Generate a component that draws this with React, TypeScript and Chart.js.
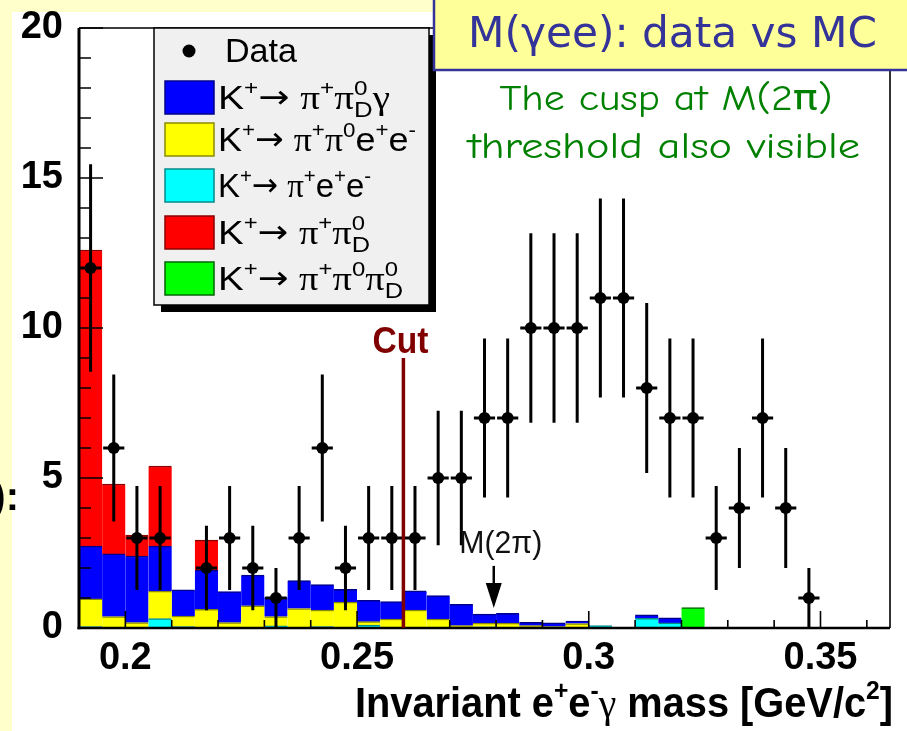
import React, { useEffect, useRef } from 'react';
import { Chart, registerables } from 'chart.js';
Chart.register(...registerables);

// ---------- data ----------
const binWidth = 0.005;
const binCenters = [0.1925, 0.1975, 0.2025, 0.2075, 0.2125, 0.2175, 0.2225, 0.2275, 0.2325, 0.2375, 0.2425, 0.2475, 0.2525, 0.2575, 0.2625, 0.2675, 0.2725, 0.2775, 0.2825, 0.2875, 0.2925, 0.2975, 0.3025, 0.3075, 0.3125, 0.3175, 0.3225, 0.3275, 0.3325, 0.3375, 0.3425, 0.3475, 0.3525, 0.3575, 0.3625];
const dataCounts = [12, 6, 3, 3, null, 2, 3, 2, 1, 3, 6, 2, 3, 3, 3, 5, 5, 7, 7, 10, 10, 10, 11, 11, 8, 7, 7, 3, 4, 7, 4, 1, null, null, null];
const dataErrors = [3.46, 2.45, 1.73, 1.73, null, 1.41, 1.73, 1.41, 1, 1.73, 2.45, 1.41, 1.73, 1.73, 1.73, 2.24, 2.24, 2.65, 2.65, 3.16, 3.16, 3.16, 3.32, 3.32, 2.83, 2.65, 2.65, 1.73, 2, 2.65, 2, 1, null, null, null];
// MC components (stack order bottom -> top: cyan, yellow, blue, red, green)
const mcPiEE = [0.05, 0.02, 0.02, 0.31, 0.05, 0, 0, 0, 0.07, 0, 0.05, 0, 0.1, 0, 0, 0, 0, 0.04, 0, 0, 0, 0, 0.08, 0, 0.32, 0.17, 0, 0, 0, 0, 0, 0, 0, 0, 0];
const mcPiPi0EE = [0.92, 0.36, 0.16, 0.92, 0.35, 0.62, 0.18, 0.74, 0.31, 0.65, 0.55, 0.86, 0.11, 0.3, 0.6, 0.3, 0.08, 0.12, 0.16, 0.08, 0.05, 0.15, 0, 0, 0, 0, 0, 0, 0, 0, 0, 0, 0, 0, 0];
const mcPiPiDGamma = [1.76, 2.09, 2.22, 1.5, 0.87, 1.31, 1.03, 1.02, 0.64, 0.93, 0.85, 0.43, 0.71, 0.58, 0.64, 0.78, 0.71, 0.3, 0.33, 0.11, 0.12, 0.08, 0, 0, 0.12, 0.17, 0, 0, 0, 0, 0, 0, 0, 0, 0];
const mcPiPiD = [9.87, 2.33, 0.7, 2.67, 0, 1.0, 0, 0, 0, 0, 0, 0, 0, 0, 0, 0, 0, 0, 0, 0, 0, 0, 0, 0, 0, 0, 0, 0, 0, 0, 0, 0, 0, 0, 0];
const mcPiPi0Pi0D = [0, 0, 0, 0, 0, 0, 0, 0, 0, 0, 0, 0, 0, 0, 0, 0, 0, 0, 0, 0, 0, 0, 0, 0, 0, 0, 0.68, 0, 0, 0, 0, 0, 0, 0, 0];

const xMin = 0.19;
const xMax = 0.365;
const xTickValues = [0.2, 0.25, 0.3, 0.35];
const xTickLabels = ['0.2', '0.25', '0.3', '0.35'];
const yTickValues = [0, 5, 10, 15, 20];
const yMax = 20;
const cutMass = 0.26;
const cutHeight = 9;
const m2piMass = 0.2795;
const arrowTipValue = 0.67;
const arrowTailValue = 2.07;

const titleText = 'M(\u03B3ee): data vs MC';
const noteLines = ['The cusp at M(2\u03C0)', 'threshold also visible'];

// ---------- drawing helpers ----------
const SANS = '"Liberation Sans", Arial, "DejaVu Sans", sans-serif';
const SERIF = '"Liberation Serif", "Times New Roman", "DejaVu Serif", serif';
const DJV = '"DejaVu Sans", Verdana, sans-serif';
const COMIC = '"Comic Sans MS", "Comic Neue", "DejaVu Sans", sans-serif';

type Seg = { t: string; r?: number; dy?: number; serif?: boolean; noAdv?: boolean; bold?: boolean; fam?: string };

function runRich(ctx: CanvasRenderingContext2D, segs: Seg[], size: number, fam: string, bold: boolean, draw: boolean) {
  let cx = 0;
  let pending = 0;
  for (const s of segs) {
    const sz = size * (s.r ?? 1);
    const b = s.bold ?? bold;
    ctx.font = `${b ? 'bold ' : ''}${sz}px ${s.fam ? s.fam : s.serif ? SERIF : fam}`;
    const w = ctx.measureText(s.t).width;
    if (draw) ctx.fillText(s.t, cx, (s.dy ?? 0) * size);
    if (s.noAdv) pending = Math.max(pending, w);
    else {
      cx += Math.max(w, pending);
      pending = 0;
    }
  }
  return cx + pending;
}

function drawRich(
  ctx: CanvasRenderingContext2D,
  segs: Seg[],
  o: { x: number; y: number; size: number; fam: string; bold?: boolean; color: string; width?: number; align?: 'left' | 'center' | 'right' }
) {
  ctx.save();
  ctx.textAlign = 'left';
  ctx.textBaseline = 'alphabetic';
  ctx.fillStyle = o.color;
  const natural = runRich(ctx, segs, o.size, o.fam, !!o.bold, false);
  const target = o.width ?? natural;
  const sx = target / natural;
  let left = o.x;
  if (o.align === 'center') left = o.x - target / 2;
  else if (o.align === 'right') left = o.x - target;
  ctx.translate(left, o.y);
  ctx.scale(sx, 1);
  runRich(ctx, segs, o.size, o.fam, !!o.bold, true);
  ctx.restore();
}

const SUP = (t: string): Seg => ({ t, r: 0.62, dy: -0.42 });
const KTO: Seg[] = [{ t: 'K' }, SUP('+'), { t: '\u2192', fam: DJV, r: 0.95, dy: -0.02 }, { t: ' ' }];
const PIP: Seg[] = [{ t: '\u03C0', serif: true }, SUP('+')];
const PI0: Seg[] = [{ t: '\u03C0', serif: true }, SUP('0')];
const PI0D: Seg[] = [{ t: '\u03C0', serif: true }, { t: '0', r: 0.62, dy: -0.42, noAdv: true }, { t: 'D', r: 0.66, dy: 0.24 }];
const EP: Seg[] = [{ t: 'e' }, SUP('+')];
const EM: Seg[] = [{ t: 'e' }, SUP('-')];
const GAM: Seg = { t: '\u03B3', serif: true };

const legendRows = [
  { fill: '#0000ff', line: '#00008b', segs: [...KTO, ...PIP, ...PI0D, GAM], w: 172 },
  { fill: '#ffff00', line: '#8b8b00', segs: [...KTO, ...PIP, ...PI0, ...EP, ...EM], w: 198 },
  { fill: '#00ffff', line: '#008b8b', segs: [...KTO, ...PIP, ...EP, ...EM], w: 153 },
  { fill: '#ff0000', line: '#8b0000', segs: [...KTO, ...PIP, ...PI0D], w: 152 },
  { fill: '#00ff00', line: '#006400', segs: [...KTO, ...PIP, ...PI0, ...PI0D], w: 185 },
];

const xTitleSegs: Seg[] = [
  { t: 'Invariant e' }, SUP('+'), { t: 'e' }, SUP('-'), { t: '\u03B3', serif: true, bold: false }, { t: ' mass [GeV/c' }, SUP('2'), { t: ']' },
];

const decorPlugin = {
  id: 'decor',
  beforeDraw(chart: any) {
    const ctx: CanvasRenderingContext2D = chart.ctx;
    ctx.save();
    ctx.fillStyle = '#ffffcc';
    ctx.fillRect(0, 0, chart.width, chart.height);
    ctx.fillStyle = '#ffffff';
    ctx.fillRect(12, 12, chart.width - 12, chart.height - 12);
    ctx.restore();
  },
  afterDatasetsDraw(chart: any) {
    const ctx: CanvasRenderingContext2D = chart.ctx;
    const { left, right, top, bottom } = chart.chartArea;
    const x = chart.scales.x;
    const y = chart.scales.y;
    ctx.save();
    // error bars
    ctx.strokeStyle = '#000';
    ctx.lineWidth = 3;
    dataCounts.forEach((n, i) => {
      if (n == null) return;
      const e = dataErrors[i] as number;
      const px = x.getPixelForValue(binCenters[i]);
      const x0 = x.getPixelForValue(binCenters[i] - binWidth / 2);
      const x1 = x.getPixelForValue(binCenters[i] + binWidth / 2);
      const py = y.getPixelForValue(n);
      ctx.beginPath();
      ctx.moveTo(px, y.getPixelForValue(Math.max(0, n - e)));
      ctx.lineTo(px, y.getPixelForValue(n + e));
      ctx.moveTo(x0 + 1, py);
      ctx.lineTo(x1 - 1, py);
      ctx.stroke();
    });
    // ticks
    ctx.lineWidth = 1.6;
    ctx.beginPath();
    for (let v = 0; v <= yMax; v++) {
      const py = y.getPixelForValue(v);
      const len = v % 5 === 0 ? 24 : 12;
      ctx.moveTo(left, py);
      ctx.lineTo(left + len, py);
    }
    for (let i = 19; i <= 37; i++) {
      const px = x.getPixelForValue(i / 100);
      if (px < left + 2 || px > right - 2) continue;
      const len = i % 5 === 0 ? 17 : 8;
      ctx.moveTo(px, bottom);
      ctx.lineTo(px, bottom - len);
    }
    ctx.stroke();
    // frame
    ctx.lineWidth = 1.6;
    ctx.beginPath();
    ctx.moveTo(left, top);
    ctx.lineTo(right, top);
    ctx.lineTo(right, bottom);
    ctx.stroke();
    ctx.lineWidth = 3;
    ctx.beginPath();
    ctx.moveTo(left, top);
    ctx.lineTo(left, bottom + 1.2);
    ctx.stroke();
    ctx.lineWidth = 2.5;
    ctx.beginPath();
    ctx.moveTo(left - 1.5, bottom);
    ctx.lineTo(right, bottom);
    ctx.stroke();
    // cut line
    const cx = x.getPixelForValue(cutMass);
    const cTop = y.getPixelForValue(cutHeight);
    ctx.strokeStyle = '#800000';
    ctx.lineWidth = 3.5;
    ctx.beginPath();
    ctx.moveTo(cx, bottom);
    ctx.lineTo(cx, cTop);
    ctx.stroke();
    drawRich(ctx, [{ t: 'Cut' }], { x: cx - 3, y: cTop - 5, size: 36, fam: SANS, bold: true, color: '#800000', width: 56, align: 'center' });
    // M(2pi) arrow
    const ax = x.getPixelForValue(m2piMass);
    const tipY = y.getPixelForValue(arrowTipValue);
    const tailY = y.getPixelForValue(arrowTailValue);
    ctx.strokeStyle = '#000';
    ctx.fillStyle = '#000';
    ctx.lineWidth = 2.5;
    ctx.beginPath();
    ctx.moveTo(ax, tailY);
    ctx.lineTo(ax, tipY - 20);
    ctx.stroke();
    ctx.beginPath();
    ctx.moveTo(ax - 8, tipY - 25);
    ctx.lineTo(ax + 8, tipY - 25);
    ctx.lineTo(ax, tipY);
    ctx.closePath();
    ctx.fill();
    drawRich(ctx, [{ t: 'M(2' }, { t: '\u03C0' }, { t: ')' }], { x: ax + 7, y: tailY - 13, size: 31, fam: SANS, color: '#111', width: 83, align: 'center' });
    ctx.restore();
  },
  afterDraw(chart: any) {
    const ctx: CanvasRenderingContext2D = chart.ctx;
    ctx.save();
    // legend
    const lx = 154, ly = 28, lw = 275, lh = 277;
    ctx.fillStyle = '#000';
    ctx.fillRect(lx + 7, ly + 7, lw, lh);
    ctx.fillStyle = '#f0f0f0';
    ctx.fillRect(lx, ly, lw, lh);
    ctx.strokeStyle = '#000';
    ctx.lineWidth = 1.5;
    ctx.strokeRect(lx, ly, lw, lh);
    ctx.fillStyle = '#000';
    ctx.beginPath();
    ctx.arc(189, 51, 6.5, 0, Math.PI * 2);
    ctx.fill();
    drawRich(ctx, [{ t: 'Data' }], { x: 225, y: 62, size: 34, fam: SANS, color: '#000', width: 72 });
    const centers = [97, 139, 185, 232, 278];
    legendRows.forEach((r, i) => {
      const cy = centers[i];
      ctx.fillStyle = r.fill;
      ctx.fillRect(165, cy - 16, 49, 33);
      ctx.strokeStyle = r.line;
      ctx.lineWidth = 1.5;
      ctx.strokeRect(165, cy - 16, 49, 33);
      drawRich(ctx, r.segs, { x: 218, y: cy + 12, size: 34, fam: SANS, color: '#000', width: r.w });
    });
    // title box
    ctx.fillStyle = '#ffff99';
    ctx.fillRect(434, -4, 480, 74);
    ctx.strokeStyle = '#333399';
    ctx.lineWidth = 2.5;
    ctx.strokeRect(434, -4, 480, 74);
    drawRich(ctx, [{ t: titleText }], { x: 468, y: 47, size: 42, fam: DJV, color: '#333399', width: 409 });
    // green note
    drawRich(ctx, [{ t: noteLines[0] }], { x: 666, y: 110, size: 36, fam: COMIC, color: '#008000', width: 333, align: 'center' });
    drawRich(ctx, [{ t: noteLines[1] }], { x: 664, y: 158, size: 36, fam: COMIC, color: '#008000', width: 392, align: 'center' });
    // x-axis title
    drawRich(ctx, xTitleSegs, { x: 893, y: 717, size: 42, fam: SANS, bold: true, color: '#000', width: 538, align: 'right' });
    // slide fragment at left edge
    ctx.fillStyle = '#000';
    ctx.font = `bold 40px ${SANS}`;
    ctx.textAlign = 'right';
    ctx.textBaseline = 'alphabetic';
    ctx.fillText('):', 19, 510);
    ctx.restore();
  },
};

const nz = (arr: number[]) => arr.map((v) => (v ? v : null));

export default function App() {
  const ref = useRef<HTMLCanvasElement>(null);
  useEffect(() => {
    const canvas = ref.current as HTMLCanvasElement;
    const barCommon = {
      type: 'bar' as const,
      xAxisID: 'xb',
      yAxisID: 'y',
      stack: 'mc',
      grouped: false,
      barPercentage: 1,
      categoryPercentage: 1,
      borderWidth: { top: 1.5, left: 0, right: 0, bottom: 0 },
      borderSkipped: 'start' as const,
    };
    const chart = new Chart(canvas, {
      type: 'bar',
      data: {
        labels: binCenters.map(String),
        datasets: [
          { ...barCommon, label: 'K+ -> pi+ e+ e-', data: nz(mcPiEE), backgroundColor: '#00ffff', borderColor: '#008b8b' },
          { ...barCommon, label: 'K+ -> pi+ pi0 e+ e-', data: nz(mcPiPi0EE), backgroundColor: '#ffff00', borderColor: '#8b8b00' },
          { ...barCommon, label: 'K+ -> pi+ pi0D gamma', data: nz(mcPiPiDGamma), backgroundColor: '#0000ff', borderColor: '#00008b' },
          { ...barCommon, label: 'K+ -> pi+ pi0D', data: nz(mcPiPiD), backgroundColor: '#ff0000', borderColor: '#8b0000' },
          { ...barCommon, label: 'K+ -> pi+ pi0 pi0D', data: nz(mcPiPi0Pi0D), backgroundColor: '#00ff00', borderColor: '#006400' },
          {
            type: 'scatter' as const,
            label: 'Data',
            xAxisID: 'x',
            yAxisID: 'y',
            stack: 'data',
            order: -1,
            data: binCenters
              .map((c, i) => (dataCounts[i] == null ? null : { x: c, y: dataCounts[i] as number }))
              .filter((p) => p !== null) as any,
            pointRadius: 6,
            pointBackgroundColor: '#000',
            pointBorderWidth: 0,
            showLine: false,
          } as any,
        ],
      },
      options: {
        responsive: false,
        animation: false,
        devicePixelRatio: 1,
        layout: { padding: { top: 28, right: 17, left: 0, bottom: 0 } },
        plugins: { legend: { display: false }, tooltip: { enabled: false }, title: { display: false } },
        scales: {
          xb: {
            type: 'category',
            display: false,
            stacked: true,
            offset: true,
            grid: { offset: true },
          },
          x: {
            type: 'linear',
            position: 'bottom',
            min: xMin,
            max: xMax,
            offset: false,
            grid: { display: false, drawTicks: false },
            border: { display: false },
            ticks: {
              color: '#000',
              padding: 8,
              maxRotation: 0,
              autoSkip: false,
              font: { family: SANS, size: 38, weight: 'bold' },
              callback: (_v: any, i: number) => xTickLabels[i],
            },
            afterBuildTicks: (s: any) => {
              s.ticks = xTickValues.map((v) => ({ value: v }));
            },
            afterFit: (s: any) => {
              s.height = 103;
              s.paddingLeft = 0;
              s.paddingRight = 0;
            },
          },
          y: {
            type: 'linear',
            min: 0,
            max: yMax,
            stacked: true,
            grid: { display: false, drawTicks: false },
            border: { display: false },
            ticks: {
              color: '#000',
              padding: 16,
              font: { family: SANS, size: 38, weight: 'bold' },
            },
            afterBuildTicks: (s: any) => {
              s.ticks = yTickValues.map((v) => ({ value: v }));
            },
            afterFit: (s: any) => {
              s.width = 79;
              s.paddingTop = 0;
              s.paddingBottom = 0;
            },
          },
        } as any,
      },
      plugins: [decorPlugin],
    } as any);
    return () => chart.destroy();
  }, []);
  return (
    <div style={{ position: 'absolute', left: 0, top: 0, width: 907, height: 731, overflow: 'hidden' }}>
      <canvas ref={ref} width={907} height={731} style={{ display: 'block', width: 907, height: 731 }} />
    </div>
  );
}
